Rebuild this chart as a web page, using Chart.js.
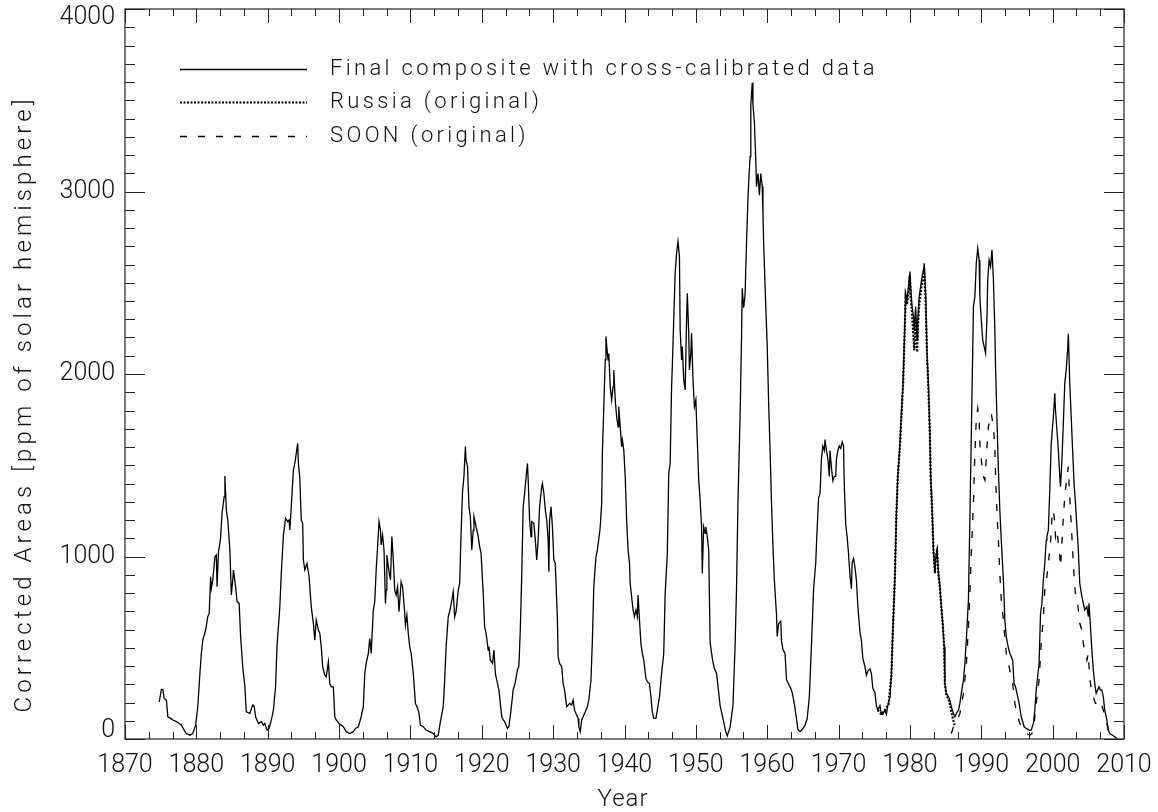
<!DOCTYPE html>
<html>
<head>
<meta charset="utf-8">
<title>Corrected sunspot areas</title>
<script src="https://cdn.jsdelivr.net/npm/chart.js@4"></script>
<style>
  html, body { margin: 0; padding: 0; background: #fff; }
  #wrap { width: 1158px; height: 812px; }
</style>
</head>
<body>
<div id="wrap"><canvas id="areaChart" width="1158" height="812"></canvas></div>
<script>
// ==== Data ====
const seriesNames = [
  'Final composite with cross-calibrated data',
  'Russia (original)',
  'SOON (original)'
];

const yearTicks = [1870, 1880, 1890, 1900, 1910, 1920, 1930, 1940, 1950, 1960, 1970, 1980, 1990, 2000, 2010];
const areaTicks = [0, 1000, 2000, 3000, 4000];

const compositeYears = [
  1874.8, 1875.1, 1875.3, 1875.5, 1875.8, 1876.0, 1876.4, 1876.7, 1877.2, 1877.6,
  1877.9, 1878.3, 1878.6, 1879.1, 1879.5, 1879.9, 1880.2, 1880.5, 1880.7, 1880.9,
  1881.3, 1881.6, 1881.8, 1882.0, 1882.1, 1882.3, 1882.6, 1882.8, 1882.9, 1883.1,
  1883.3, 1883.4, 1883.6, 1883.9, 1884.0, 1884.2, 1884.4, 1884.7, 1884.9, 1885.1,
  1885.2, 1885.5, 1885.7, 1886.0, 1886.2, 1886.5, 1886.8, 1887.0, 1887.5, 1887.9,
  1888.1, 1888.3, 1888.7, 1889.1, 1889.4, 1889.6, 1889.9, 1890.2, 1890.5, 1890.8,
  1891.1, 1891.3, 1891.7, 1891.9, 1892.2, 1892.5, 1892.8, 1893.0, 1893.1, 1893.3,
  1893.6, 1893.8, 1894.0, 1894.2, 1894.3, 1894.5, 1894.7, 1894.9, 1895.0, 1895.2,
  1895.5, 1895.8, 1896.1, 1896.4, 1896.6, 1896.8, 1897.1, 1897.3, 1897.5, 1897.7,
  1898.0, 1898.2, 1898.5, 1898.7, 1898.9, 1899.2, 1899.4, 1899.6, 1900.0, 1900.3,
  1900.6, 1901.0, 1901.5, 1902.0, 1902.3, 1902.7, 1903.1, 1903.4, 1903.6, 1903.8,
  1904.1, 1904.3, 1904.5, 1904.8, 1905.0, 1905.2, 1905.4, 1905.6, 1905.8, 1905.9,
  1906.1, 1906.3, 1906.5, 1906.6, 1906.7, 1906.9, 1907.2, 1907.4, 1907.6, 1907.8,
  1908.0, 1908.2, 1908.4, 1908.7, 1908.9, 1909.2, 1909.3, 1909.5, 1909.7, 1909.9,
  1910.1, 1910.4, 1910.7, 1911.0, 1911.2, 1911.4, 1911.8, 1912.2, 1912.7, 1913.2,
  1913.6, 1913.9, 1914.2, 1914.6, 1914.8, 1915.0, 1915.3, 1915.5, 1915.8, 1916.0,
  1916.2, 1916.4, 1916.7, 1916.9, 1917.1, 1917.3, 1917.5, 1917.7, 1917.8, 1918.0,
  1918.2, 1918.4, 1918.6, 1918.8, 1918.9, 1919.2, 1919.5, 1919.7, 1919.9, 1920.2,
  1920.4, 1920.6, 1920.9, 1921.0, 1921.2, 1921.5, 1921.7, 1921.9, 1922.1, 1922.4,
  1922.5, 1922.8, 1923.0, 1923.2, 1923.6, 1923.8, 1924.1, 1924.4, 1924.7, 1925.0,
  1925.2, 1925.4, 1925.6, 1925.8, 1926.0, 1926.3, 1926.4, 1926.5, 1926.7, 1926.9,
  1927.0, 1927.3, 1927.5, 1927.7, 1927.9, 1928.1, 1928.4, 1928.5, 1928.7, 1928.9,
  1929.1, 1929.3, 1929.4, 1929.5, 1929.7, 1929.9, 1930.1, 1930.3, 1930.6, 1930.7,
  1930.9, 1931.2, 1931.4, 1931.6, 1931.9, 1932.1, 1932.3, 1932.6, 1932.8, 1933.0,
  1933.2, 1933.5, 1933.6, 1933.8, 1934.0, 1934.2, 1934.4, 1934.8, 1935.0, 1935.3,
  1935.5, 1935.7, 1936.0, 1936.2, 1936.5, 1936.6, 1936.8, 1936.9, 1937.1, 1937.3,
  1937.4, 1937.6, 1937.7, 1937.8, 1938.0, 1938.2, 1938.4, 1938.5, 1938.7, 1938.9,
  1939.1, 1939.2, 1939.4, 1939.6, 1939.7, 1939.9, 1940.1, 1940.3, 1940.5, 1940.7,
  1940.8, 1941.0, 1941.2, 1941.4, 1941.6, 1941.8, 1941.9, 1942.1, 1942.3, 1942.5,
  1942.7, 1943.0, 1943.2, 1943.5, 1943.7, 1943.9, 1944.1, 1944.4, 1944.6, 1944.9,
  1945.2, 1945.5, 1945.7, 1946.0, 1946.2, 1946.4, 1946.6, 1946.7, 1946.9, 1947.1,
  1947.3, 1947.5, 1947.7, 1947.8, 1948.0, 1948.1, 1948.3, 1948.5, 1948.7, 1948.8,
  1949.0, 1949.1, 1949.3, 1949.4, 1949.6, 1949.8, 1950.0, 1950.2, 1950.4, 1950.6,
  1950.8, 1950.9, 1951.1, 1951.3, 1951.4, 1951.6, 1951.8, 1952.0, 1952.2, 1952.4,
  1952.6, 1952.9, 1953.1, 1953.4, 1953.8, 1954.2, 1954.4, 1954.8, 1955.2, 1955.5,
  1955.7, 1955.9, 1956.2, 1956.4, 1956.5, 1956.7, 1956.9, 1957.1, 1957.3, 1957.4,
  1957.6, 1957.7, 1957.9, 1958.0, 1958.2, 1958.4, 1958.5, 1958.7, 1958.8, 1958.9,
  1959.1, 1959.3, 1959.4, 1959.5, 1959.7, 1960.0, 1960.2, 1960.4, 1960.6, 1960.8,
  1961.0, 1961.3, 1961.4, 1961.6, 1961.9, 1962.0, 1962.2, 1962.5, 1962.7, 1963.0,
  1963.3, 1963.5, 1963.8, 1964.1, 1964.3, 1964.6, 1964.9, 1965.3, 1965.6, 1965.9,
  1966.2, 1966.5, 1966.8, 1967.0, 1967.2, 1967.4, 1967.6, 1967.8, 1968.0, 1968.1,
  1968.3, 1968.5, 1968.7, 1968.8, 1969.0, 1969.2, 1969.4, 1969.6, 1969.7, 1969.9,
  1970.1, 1970.3, 1970.5, 1970.7, 1970.8, 1971.0, 1971.2, 1971.4, 1971.6, 1971.8,
  1971.9, 1972.1, 1972.3, 1972.5, 1972.7, 1973.0, 1973.2, 1973.4, 1973.7, 1973.9,
  1974.1, 1974.4, 1974.6, 1974.8, 1975.1, 1975.3, 1975.5, 1975.8, 1976.0, 1976.2,
  1976.5, 1976.7, 1976.9, 1977.2, 1977.4, 1977.6, 1977.9, 1978.1, 1978.3, 1978.6,
  1978.8, 1979.05, 1979.3, 1979.4, 1979.6, 1979.8, 1980.0, 1980.1, 1980.3, 1980.5,
  1980.6, 1980.8, 1981.0, 1981.1, 1981.3, 1981.5, 1981.7, 1981.9, 1982.0, 1982.2,
  1982.4, 1982.6, 1982.8, 1982.9, 1983.1, 1983.3, 1983.5, 1983.6, 1983.8, 1984.0,
  1984.2, 1984.4, 1984.6, 1984.8, 1984.9, 1985.1, 1985.4, 1985.6, 1985.8, 1986.1,
  1986.3, 1986.5, 1986.8, 1987.0, 1987.2, 1987.5, 1987.7, 1987.9, 1988.2, 1988.4,
  1988.6, 1988.9, 1989.1, 1989.3, 1989.5, 1989.7, 1989.8, 1990.0, 1990.2, 1990.4,
  1990.6, 1990.8, 1990.9, 1991.1, 1991.3, 1991.5, 1991.7, 1991.9, 1992.0, 1992.2,
  1992.4, 1992.6, 1992.8, 1993.1, 1993.3, 1993.5, 1993.8, 1994.0, 1994.4, 1994.6,
  1994.8, 1995.0, 1995.3, 1995.6, 1996.0, 1996.3, 1996.7, 1997.0, 1997.3, 1997.5,
  1997.7, 1998.1, 1998.3, 1998.5, 1998.7, 1998.9, 1999.1, 1999.2, 1999.4, 1999.6,
  1999.8, 2000.1, 2000.3, 2000.4, 2000.6, 2000.8, 2001.0, 2001.1, 2001.3, 2001.5,
  2001.7, 2001.9, 2002.1, 2002.2, 2002.4, 2002.6, 2002.8, 2003.0, 2003.2, 2003.4,
  2003.6, 2003.8, 2004.1, 2004.3, 2004.5, 2004.8, 2005.0, 2005.1, 2005.3, 2005.5,
  2005.7, 2005.9, 2006.1, 2006.3, 2006.5, 2006.7, 2006.9, 2007.1, 2007.3, 2007.6,
  2007.8, 2008.0, 2008.4, 2008.7, 2009.0
];
const compositeValues = [
  204, 272, 272, 222, 213, 122, 113, 104, 95, 85,
  76, 49, 30, 21, 30, 76, 177, 360, 469, 542,
  597, 670, 688, 889, 825, 871, 999, 1008, 834, 1027,
  1073, 1109, 1237, 1328, 1441, 1255, 1200, 1036, 789, 871,
  926, 834, 752, 743, 560, 396, 286, 149, 140, 186,
  180, 122, 85, 95, 76, 85, 49, 58, 104, 158,
  286, 506, 725, 907, 1117, 1209, 1191, 1200, 1145, 1273,
  1474, 1510, 1565, 1620, 1510, 1428, 1200, 1182, 981, 926,
  962, 889, 725, 634, 542, 652, 597, 580, 506, 396,
  350, 341, 423, 304, 286, 286, 122, 104, 85, 76,
  67, 40, 30, 40, 58, 67, 122, 177, 360, 414,
  469, 551, 469, 707, 752, 926, 1054, 1191, 1145, 1063,
  1117, 1036, 743, 816, 1008, 944, 871, 1109, 981, 816,
  789, 834, 698, 862, 834, 688, 624, 679, 579, 506,
  469, 360, 195, 168, 140, 76, 67, 49, 40, 30,
  12, 21, 95, 177, 323, 506, 670, 698, 761, 807,
  670, 698, 816, 853, 1127, 1355, 1438, 1602, 1529, 1492,
  1273, 1218, 1036, 1145, 1218, 1163, 1109, 1054, 1017, 798,
  615, 579, 487, 506, 432, 414, 487, 360, 323, 268,
  231, 122, 104, 95, 58, 67, 160, 270, 310, 380,
  400, 600, 900, 1273, 1346, 1474, 1510, 1419, 1200, 1109,
  1191, 1182, 1091, 981, 1091, 1273, 1383, 1401, 1346, 1255,
  1200, 1091, 917, 1200, 1273, 1163, 981, 962, 651, 450,
  414, 396, 304, 268, 177, 186, 195, 186, 213, 158,
  140, 113, 67, 40, 104, 122, 140, 177, 213, 323,
  542, 834, 999, 1036, 1127, 1163, 1291, 1565, 1821, 2077,
  2205, 2113, 2077, 2113, 1931, 1858, 1931, 2022, 1858, 1766,
  1711, 1821, 1711, 1602, 1638, 1583, 1437, 1200, 1036, 962,
  852, 779, 707, 670, 707, 670, 789, 651, 524, 469,
  432, 332, 314, 304, 231, 149, 113, 113, 158, 231,
  359, 469, 798, 1017, 1456, 1510, 1931, 2041, 2297, 2552,
  2662, 2726, 2644, 2242, 2077, 2150, 1967, 1913, 2297, 2443,
  2224, 2022, 2113, 2224, 1967, 1821, 1858, 1638, 1419, 1310,
  1163, 907, 1163, 1127, 1163, 1109, 1036, 530, 470, 420,
  385, 360, 290, 183, 112, 41, 17, 65, 183, 514,
  823, 1297, 1771, 2197, 2470, 2363, 2434, 2719, 2956, 3051,
  3193, 3477, 3596, 3477, 3382, 3169, 3027, 3098, 3051, 2980,
  3098, 3027, 2885, 2719, 2482, 2150, 1842, 1581, 1297, 1060,
  871, 681, 562, 633, 645, 538, 491, 467, 325, 301,
  278, 254, 194, 112, 52, 41, 52, 76, 112, 230,
  514, 823, 965, 1155, 1321, 1344, 1534, 1605, 1581, 1641,
  1581, 1534, 1439, 1581, 1486, 1415, 1439, 1439, 1534, 1581,
  1605, 1593, 1628, 1605, 1391, 1178, 1107, 1012, 894, 823,
  965, 989, 941, 870, 728, 586, 538, 443, 396, 349,
  372, 384, 360, 278, 254, 183, 159, 183, 135, 135,
  159, 135, 183, 230, 349, 586, 894, 1226, 1439, 1620,
  1780, 1960, 2297, 2443, 2406, 2479, 2561, 2479, 2370, 2315,
  2242, 2370, 2187, 2297, 2424, 2479, 2534, 2570, 2607, 2443,
  2114, 1931, 1675, 1456, 1273, 1036, 907, 981, 1036, 907,
  834, 725, 634, 506, 304, 250, 231, 213, 177, 140,
  122, 140, 158, 195, 250, 323, 414, 542, 761, 1200,
  1657, 2370, 2424, 2607, 2689, 2625, 2424, 2297, 2187, 2150,
  2114, 2315, 2516, 2625, 2589, 2680, 2516, 2242, 2041, 1748,
  1474, 1255, 1090, 871, 652, 560, 500, 470, 432, 304,
  286, 250, 195, 122, 67, 58, 49, 49, 85, 158,
  268, 414, 688, 743, 871, 962, 1090, 1109, 1145, 1364,
  1620, 1766, 1894, 1803, 1693, 1584, 1437, 1383, 1529, 1730,
  1949, 2022, 2132, 2220, 1949, 1766, 1584, 1401, 1291, 1163,
  1036, 853, 780, 743, 707, 725, 670, 743, 615, 487,
  377, 304, 250, 268, 286, 268, 268, 231, 158, 104,
  49, 30, 21, 12, 3
];

const russiaYears = [
  1975.5, 1976.0, 1976.5, 1977.0, 1977.4, 1977.6, 1977.9, 1978.1, 1978.3, 1978.6,
  1978.8, 1979.05, 1979.3, 1979.4, 1979.6, 1979.8, 1980.0, 1980.1, 1980.3, 1980.5,
  1980.6, 1980.8, 1981.0, 1981.1, 1981.3, 1981.5, 1981.7, 1981.9, 1982.0, 1982.2,
  1982.4, 1982.6, 1982.8, 1982.9, 1983.1, 1983.3, 1983.5, 1983.6, 1983.8, 1984.0,
  1984.2, 1984.4, 1984.6, 1984.8, 1984.9, 1985.1, 1985.4, 1985.6, 1985.8, 1986.1,
  1986.3
];
const russiaValues = [
  159, 135, 159, 190, 349, 586, 894, 1226, 1439, 1600,
  1760, 1950, 2280, 2420, 2380, 2450, 2540, 2420, 2330, 2200,
  2130, 2300, 2120, 2250, 2380, 2440, 2500, 2540, 2580, 2400,
  2090, 1910, 1660, 1440, 1260, 1030, 910, 1000, 1030, 900,
  830, 720, 630, 500, 300, 240, 220, 190, 150, 100,
  70
];

const soonYears = [
  1985.8, 1986.1, 1986.5, 1987.0, 1987.5, 1987.9, 1988.3, 1988.6, 1988.9, 1989.1,
  1989.3, 1989.5, 1989.7, 1989.8, 1990.0, 1990.3, 1990.5, 1990.8, 1991.0, 1991.2,
  1991.4, 1991.7, 1991.9, 1992.0, 1992.2, 1992.4, 1992.6, 1992.8, 1993.1, 1993.3,
  1993.5, 1993.8, 1994.0, 1994.4, 1994.7, 1995.0, 1995.4, 1995.9, 1996.3, 1996.8,
  1997.1, 1997.4, 1997.7, 1998.1, 1998.4, 1998.7, 1998.9, 1999.2, 1999.5, 1999.7,
  1999.9, 2000.1, 2000.3, 2000.4, 2000.6, 2000.8, 2001.0, 2001.1, 2001.3, 2001.5,
  2001.7, 2001.9, 2002.0, 2002.2, 2002.3, 2002.5, 2002.7, 2002.9, 2003.1, 2003.3,
  2003.5, 2003.6, 2003.8, 2004.1, 2004.3, 2004.5, 2004.8, 2005.0, 2005.1, 2005.3,
  2005.5, 2005.7, 2006.0, 2006.3, 2006.5, 2006.8, 2007.1, 2007.5, 2007.8, 2008.3
];
const soonValues = [
  30, 67, 94, 140, 250, 396, 688, 1017, 1291, 1565,
  1748, 1812, 1748, 1620, 1529, 1438, 1419, 1602, 1711, 1748,
  1784, 1711, 1602, 1438, 1237, 1090, 907, 761, 652, 560,
  469, 414, 377, 304, 195, 140, 85, 49, 30, 21,
  30, 85, 195, 323, 524, 670, 816, 890, 999, 1072,
  1218, 1255, 1182, 1109, 1145, 1072, 999, 944, 1072, 1218,
  1328, 1401, 1437, 1492, 1401, 1255, 1109, 962, 834, 761,
  743, 707, 634, 597, 524, 487, 432, 469, 396, 304,
  250, 231, 195, 195, 213, 195, 158, 104, 49, 12
];

// ==== Styling ====
const FONT = 'Roboto, "DejaVu Sans", sans-serif';
const INK = '#111';

function toPoints(xs, ys) {
  if (xs.length !== ys.length) console.warn('length mismatch', xs.length, ys.length);
  return xs.map((x, i) => ({ x: x, y: ys[i] }));
}

// letter spacing so a string spans a given width (the original uses a wide stroke font)
function spacingFor(ctx, text, width) {
  ctx.letterSpacing = '0px';
  const w = ctx.measureText(text).width;
  return Math.max(0, (width - w) / text.length);
}

// ==== Frame with inward ticks on all four sides ====
const frameTicks = {
  id: 'frameTicks',
  afterDatasetsDraw(chart) {
    const { ctx, chartArea: a, scales: { x, y } } = chart;
    ctx.save();
    ctx.strokeStyle = '#222';
    ctx.lineWidth = 1.2;
    ctx.strokeRect(a.left, a.top, a.right - a.left, a.bottom - a.top);

    ctx.lineWidth = 1;
    ctx.beginPath();
    for (let k = 0; k <= 42; k++) {
      const px = Math.round(x.getPixelForValue(1870 + k * 10 / 3)) + 0.5;
      const len = k % 3 === 0 ? 14 : 7;
      ctx.moveTo(px, a.bottom); ctx.lineTo(px, a.bottom - len);
      ctx.moveTo(px, a.top); ctx.lineTo(px, a.top + len);
    }
    for (let v = 0; v <= 4000; v += 100) {
      const py = Math.round(y.getPixelForValue(v)) + 0.5;
      const len = v % 1000 === 0 ? 20 : 10;
      ctx.moveTo(a.left, py); ctx.lineTo(a.left + len, py);
      ctx.moveTo(a.right, py); ctx.lineTo(a.right - len, py);
    }
    ctx.stroke();
    ctx.restore();
  }
};

// ==== Y tick labels (end labels kept inside the frame, as in the original) ====
const yLabels = {
  id: 'yLabels',
  afterDraw(chart) {
    const { ctx, chartArea: a, scales: { y } } = chart;
    ctx.save();
    ctx.font = '300 25px ' + FONT;
    ctx.fillStyle = INK;
    ctx.textAlign = 'right';
    ctx.textBaseline = 'middle';
    areaTicks.forEach(v => {
      const py = Math.min(Math.max(y.getPixelForValue(v), a.top + 9), a.bottom - 8);
      ctx.fillText(String(v), a.left - 10, py);
    });
    ctx.restore();
  }
};

// ==== Legend inside the plot, top left ====
const insideLegend = {
  id: 'insideLegend',
  afterDraw(chart) {
    const ctx = chart.ctx;
    const rows = [69, 102, 136];
    ctx.save();
    ctx.font = '300 22px ' + FONT;
    const sp = spacingFor(ctx, seriesNames[0], 548);
    chart.data.datasets.forEach((ds, i) => {
      const yy = rows[i] + 0.5;
      ctx.strokeStyle = '#000';
      ctx.lineWidth = ds.borderWidth;
      ctx.setLineDash(ds.borderDash || []);
      ctx.beginPath();
      ctx.moveTo(180, yy);
      ctx.lineTo(307, yy);
      ctx.stroke();
      ctx.setLineDash([]);
      ctx.fillStyle = INK;
      ctx.textAlign = 'left';
      ctx.textBaseline = 'middle';
      ctx.letterSpacing = sp + 'px';
      ctx.fillText(ds.label, 330, rows[i]);
    });
    ctx.restore();
  }
};

// ==== Axis titles ====
const axisTitles = {
  id: 'axisTitles',
  afterDraw(chart) {
    const ctx = chart.ctx;
    const yTitle = 'Corrected Areas [ppm of solar hemisphere]';
    ctx.save();
    ctx.fillStyle = INK;
    ctx.font = '300 24px ' + FONT;
    ctx.textAlign = 'center';
    ctx.textBaseline = 'middle';
    ctx.letterSpacing = '1px';
    ctx.fillText('Year', 623, 800);

    const sp = spacingFor(ctx, yTitle, 617);
    ctx.letterSpacing = sp + 'px';
    ctx.translate(25, 404);
    ctx.rotate(-Math.PI / 2);
    ctx.fillText(yTitle, 0, 0);
    ctx.restore();
  }
};

// ==== Chart ====
const canvas = document.getElementById('areaChart');
new Chart(canvas, {
  type: 'line',
  data: {
    datasets: [
      {
        label: seriesNames[0],
        data: toPoints(compositeYears, compositeValues),
        borderColor: '#000',
        borderWidth: 1.3
      },
      {
        label: seriesNames[1],
        data: toPoints(russiaYears, russiaValues),
        borderColor: '#000',
        borderWidth: 2.2,
        borderDash: [2, 1.5]
      },
      {
        label: seriesNames[2],
        data: toPoints(soonYears, soonValues),
        borderColor: '#000',
        borderWidth: 1.3,
        borderDash: [7, 11]
      }
    ]
  },
  options: {
    responsive: false,
    animation: false,
    elements: {
      point: { radius: 0 },
      line: { tension: 0 }
    },
    layout: { padding: { top: 9, right: 34, left: 0, bottom: 0 } },
    plugins: {
      legend: { display: false },
      tooltip: { enabled: false }
    },
    scales: {
      x: {
        type: 'linear',
        min: 1870,
        max: 2010,
        afterBuildTicks: s => { s.ticks = yearTicks.map(v => ({ value: v })); },
        afterFit: s => { s.height = 73; s.paddingLeft = 0; s.paddingRight = 0; },
        grid: { display: false },
        border: { display: false },
        ticks: {
          font: { family: FONT, size: 25, weight: 300 },
          color: INK,
          padding: 4,
          maxRotation: 0,
          autoSkip: false,
          callback: v => String(v)
        }
      },
      y: {
        min: 0,
        max: 4000,
        afterBuildTicks: s => { s.ticks = areaTicks.map(v => ({ value: v })); },
        afterFit: s => { s.width = 125; s.paddingTop = 0; s.paddingBottom = 0; },
        grid: { display: false },
        border: { display: false },
        ticks: { display: false }
      }
    }
  },
  plugins: [frameTicks, yLabels, insideLegend, axisTitles]
});
</script>
</body>
</html>
